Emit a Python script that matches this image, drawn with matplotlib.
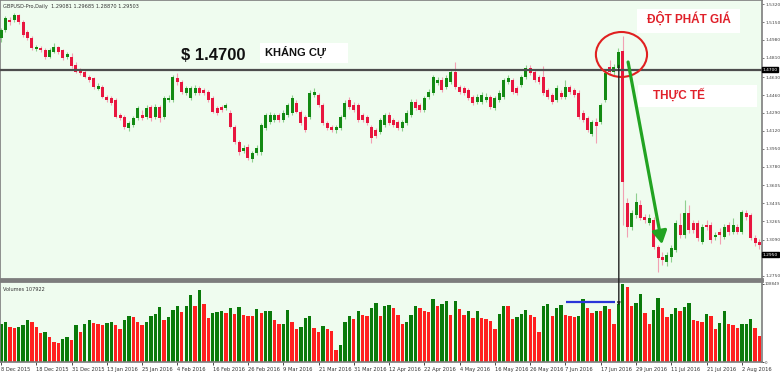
import matplotlib
matplotlib.use("Agg")
import matplotlib.pyplot as plt
from matplotlib.patches import Ellipse, Rectangle, FancyArrowPatch, ConnectionPatch

# GBPUSD daily, 8 Dec 2015 .. early Aug 2016
OPEN = [1.4999, 1.5075, 1.5169, 1.5169, 1.5216, 1.5150, 1.5056, 1.4999, 1.4895, 1.4904,
        1.4886, 1.4819, 1.4867, 1.4914, 1.4886, 1.4819, 1.4819, 1.4744, 1.4697, 1.4678,
        1.4630, 1.4621, 1.4517, 1.4536, 1.4441, 1.4432, 1.4413, 1.4271, 1.4252, 1.4148,
        1.4177, 1.4243, 1.4271, 1.4252, 1.4347, 1.4252, 1.4347, 1.4252, 1.4413, 1.4413,
        1.4621, 1.4583, 1.4479, 1.4432, 1.4479, 1.4526, 1.4508, 1.4489, 1.4432, 1.4337,
        1.4347, 1.4337, 1.4290, 1.4158, 1.4016, 1.3931, 1.3969, 1.3856, 1.3912, 1.3922,
        1.4148, 1.4205, 1.4224, 1.4271, 1.4224, 1.4271, 1.4290, 1.4385, 1.4300, 1.4252,
        1.4252, 1.4460, 1.4460, 1.4366, 1.4196, 1.4158, 1.4130, 1.4148, 1.4252, 1.4413,
        1.4366, 1.4366, 1.4271, 1.4252, 1.4158, 1.4130, 1.4111, 1.4177, 1.4271, 1.4224,
        1.4205, 1.4148, 1.4196, 1.4271, 1.4394, 1.4366, 1.4319, 1.4441, 1.4479, 1.4574,
        1.4602, 1.4536, 1.4583, 1.4678, 1.4536, 1.4526, 1.4508, 1.4441, 1.4394, 1.4394,
        1.4413, 1.4441, 1.4337, 1.4413, 1.4441, 1.4583, 1.4602, 1.4526, 1.4555, 1.4630,
        1.4715, 1.4678, 1.4630, 1.4630, 1.4508, 1.4460, 1.4413, 1.4479, 1.4441, 1.4536,
        1.4508, 1.4479, 1.4290, 1.4243, 1.4092, 1.4205, 1.4205, 1.4413, 1.4725, 1.4678,
        1.4715, 1.4877, 1.3440, 1.3213, 1.3326, 1.3421, 1.3307, 1.3251, 1.3279, 1.3024,
        1.2929, 1.2882, 1.2929, 1.2996, 1.3232, 1.3137, 1.3345, 1.3251, 1.3251, 1.3071,
        1.3232, 1.3232, 1.3118, 1.3166, 1.3118, 1.3232, 1.3166, 1.3213, 1.3166, 1.3345,
        1.3326, 1.3109, 1.3071]
HIGH = [1.5093, 1.5207, 1.5197, 1.5235, 1.5226, 1.5169, 1.5075, 1.5018, 1.4933, 1.4923,
        1.4904, 1.4904, 1.4952, 1.4923, 1.4895, 1.4867, 1.4857, 1.4772, 1.4715, 1.4697,
        1.4649, 1.4630, 1.4574, 1.4555, 1.4460, 1.4451, 1.4432, 1.4290, 1.4271, 1.4215,
        1.4262, 1.4356, 1.4319, 1.4366, 1.4366, 1.4375, 1.4366, 1.4451, 1.4460, 1.4649,
        1.4668, 1.4602, 1.4545, 1.4545, 1.4555, 1.4545, 1.4526, 1.4508, 1.4451, 1.4356,
        1.4366, 1.4385, 1.4319, 1.4177, 1.4035, 1.3988, 1.3997, 1.3931, 1.3988, 1.4196,
        1.4290, 1.4300, 1.4290, 1.4290, 1.4319, 1.4385, 1.4460, 1.4413, 1.4319, 1.4271,
        1.4508, 1.4526, 1.4479, 1.4385, 1.4215, 1.4177, 1.4177, 1.4271, 1.4413, 1.4441,
        1.4394, 1.4385, 1.4290, 1.4271, 1.4177, 1.4148, 1.4243, 1.4290, 1.4300, 1.4243,
        1.4224, 1.4224, 1.4319, 1.4422, 1.4422, 1.4385, 1.4451, 1.4517, 1.4649, 1.4630,
        1.4630, 1.4649, 1.4697, 1.4772, 1.4555, 1.4545, 1.4526, 1.4460, 1.4470, 1.4489,
        1.4479, 1.4460, 1.4451, 1.4508, 1.4621, 1.4649, 1.4621, 1.4545, 1.4649, 1.4744,
        1.4744, 1.4697, 1.4649, 1.4734, 1.4526, 1.4479, 1.4555, 1.4508, 1.4602, 1.4555,
        1.4526, 1.4508, 1.4319, 1.4262, 1.4224, 1.4243, 1.4385, 1.4697, 1.4791, 1.4753,
        1.4904, 1.5018, 1.3487, 1.3374, 1.3534, 1.3468, 1.3336, 1.3336, 1.3307, 1.3043,
        1.2977, 1.2977, 1.3043, 1.3279, 1.3345, 1.3468, 1.3421, 1.3279, 1.3279, 1.3241,
        1.3279, 1.3260, 1.3166, 1.3203, 1.3241, 1.3260, 1.3298, 1.3241, 1.3374, 1.3374,
        1.3345, 1.3137, 1.3099]
LOW = [1.4961, 1.5056, 1.5122, 1.5150, 1.5131, 1.5008, 1.4980, 1.4886, 1.4876, 1.4867,
       1.4800, 1.4810, 1.4857, 1.4848, 1.4791, 1.4800, 1.4715, 1.4668, 1.4649, 1.4621,
       1.4583, 1.4517, 1.4508, 1.4432, 1.4394, 1.4366, 1.4243, 1.4224, 1.4139, 1.4120,
       1.4158, 1.4224, 1.4224, 1.4233, 1.4215, 1.4233, 1.4205, 1.4233, 1.4394, 1.4394,
       1.4555, 1.4470, 1.4460, 1.4413, 1.4460, 1.4460, 1.4460, 1.4394, 1.4290, 1.4271,
       1.4300, 1.4319, 1.4148, 1.3997, 1.3893, 1.3912, 1.3846, 1.3827, 1.3893, 1.3893,
       1.4130, 1.4186, 1.4205, 1.4205, 1.4205, 1.4252, 1.4271, 1.4290, 1.4177, 1.4111,
       1.4233, 1.4441, 1.4347, 1.4177, 1.4130, 1.4111, 1.4101, 1.4130, 1.4233, 1.4328,
       1.4300, 1.4205, 1.4205, 1.4177, 1.4007, 1.4054, 1.4092, 1.4158, 1.4177, 1.4158,
       1.4130, 1.4120, 1.4177, 1.4252, 1.4319, 1.4300, 1.4300, 1.4422, 1.4460, 1.4555,
       1.4489, 1.4517, 1.4564, 1.4517, 1.4470, 1.4460, 1.4413, 1.4366, 1.4375, 1.4375,
       1.4394, 1.4328, 1.4319, 1.4394, 1.4422, 1.4564, 1.4470, 1.4460, 1.4536, 1.4611,
       1.4649, 1.4583, 1.4564, 1.4460, 1.4422, 1.4375, 1.4394, 1.4422, 1.4422, 1.4470,
       1.4441, 1.4233, 1.4205, 1.4111, 1.4073, 1.4007, 1.4186, 1.4394, 1.4649, 1.4649,
       1.4697, 1.3232, 1.3118, 1.3185, 1.3298, 1.3279, 1.3251, 1.3232, 1.3005, 1.2788,
       1.2854, 1.2844, 1.2882, 1.2977, 1.3109, 1.3109, 1.3156, 1.3156, 1.3081, 1.3052,
       1.3185, 1.3062, 1.3090, 1.3052, 1.3099, 1.3137, 1.3147, 1.3147, 1.3147, 1.3279,
       1.3090, 1.3033, 1.3005]
CLOSE = [1.5075, 1.5188, 1.5150, 1.5216, 1.5150, 1.5027, 1.4999, 1.4904, 1.4914, 1.4886,
         1.4819, 1.4886, 1.4914, 1.4867, 1.4810, 1.4848, 1.4734, 1.4678, 1.4668, 1.4630,
         1.4602, 1.4536, 1.4545, 1.4441, 1.4413, 1.4385, 1.4252, 1.4243, 1.4158, 1.4196,
         1.4243, 1.4337, 1.4243, 1.4337, 1.4243, 1.4347, 1.4243, 1.4432, 1.4432, 1.4630,
         1.4583, 1.4489, 1.4526, 1.4526, 1.4526, 1.4479, 1.4479, 1.4413, 1.4300, 1.4290,
         1.4319, 1.4366, 1.4158, 1.4016, 1.3922, 1.3959, 1.3865, 1.3912, 1.3959, 1.4177,
         1.4271, 1.4271, 1.4271, 1.4224, 1.4290, 1.4366, 1.4432, 1.4300, 1.4196, 1.4130,
         1.4479, 1.4489, 1.4366, 1.4196, 1.4148, 1.4130, 1.4158, 1.4252, 1.4385, 1.4347,
         1.4319, 1.4224, 1.4224, 1.4196, 1.4054, 1.4073, 1.4224, 1.4271, 1.4196, 1.4177,
         1.4148, 1.4205, 1.4290, 1.4394, 1.4337, 1.4319, 1.4432, 1.4489, 1.4630, 1.4602,
         1.4508, 1.4621, 1.4678, 1.4536, 1.4489, 1.4479, 1.4432, 1.4385, 1.4441, 1.4460,
         1.4441, 1.4347, 1.4432, 1.4479, 1.4602, 1.4621, 1.4489, 1.4479, 1.4630, 1.4715,
         1.4668, 1.4602, 1.4583, 1.4479, 1.4441, 1.4394, 1.4526, 1.4441, 1.4536, 1.4489,
         1.4460, 1.4252, 1.4224, 1.4130, 1.4205, 1.4167, 1.4366, 1.4668, 1.4678, 1.4725,
         1.4867, 1.3640, 1.3213, 1.3345, 1.3449, 1.3298, 1.3279, 1.3298, 1.3024, 1.2920,
         1.2901, 1.2948, 1.3014, 1.3251, 1.3137, 1.3345, 1.3185, 1.3185, 1.3109, 1.3213,
         1.3213, 1.3090, 1.3137, 1.3137, 1.3213, 1.3166, 1.3232, 1.3166, 1.3355, 1.3307,
         1.3109, 1.3062, 1.3043]
# tick volume (thousands)
VOLUME = [52, 55, 49, 47, 48, 51, 58, 55, 48, 40,
          41, 35, 27, 26, 32, 35, 31, 51, 42, 52,
          58, 54, 52, 51, 54, 56, 51, 46, 58, 63,
          62, 56, 51, 55, 63, 66, 76, 58, 62, 72,
          78, 69, 78, 92, 78, 99, 80, 61, 68, 69,
          70, 68, 75, 66, 76, 65, 64, 63, 73, 68,
          70, 71, 58, 52, 53, 72, 55, 45, 49, 61,
          63, 47, 41, 50, 46, 43, 17, 23, 55, 63,
          59, 71, 65, 63, 75, 81, 64, 77, 79, 75,
          65, 52, 56, 65, 77, 75, 70, 69, 87, 77,
          80, 85, 65, 84, 73, 65, 71, 61, 70, 61,
          60, 57, 46, 66, 78, 77, 59, 62, 66, 72,
          65, 62, 41, 77, 80, 64, 75, 79, 65, 64,
          62, 64, 87, 74, 68, 71, 70, 77, 73, 52,
          80, 108, 104, 78, 81, 94, 68, 52, 72, 88,
          75, 62, 66, 74, 71, 76, 81, 58, 57, 55,
          66, 64, 46, 54, 71, 52, 51, 47, 52, 53,
          59, 47, 36]
DATE_LABELS = ["8 Dec 2015", "18 Dec 2015", "31 Dec 2015", "13 Jan 2016", "25 Jan 2016",
               "4 Feb 2016", "16 Feb 2016", "26 Feb 2016", "9 Mar 2016", "21 Mar 2016",
               "31 Mar 2016", "12 Apr 2016", "22 Apr 2016", "4 May 2016", "16 May 2016",
               "26 May 2016", "7 Jun 2016", "17 Jun 2016", "29 Jun 2016", "11 Jul 2016",
               "21 Jul 2016", "2 Aug 2016"]
PRICE_TICKS = [1.5320, 1.5150, 1.4980, 1.4810, 1.4630, 1.4460, 1.4290, 1.4120,
               1.3950, 1.3780, 1.3605, 1.3435, 1.3265, 1.3090, 1.2750]
RESISTANCE = 1.4700
LAST_PRICE = 1.2950

BG = "#effcef"
UP, DOWN = "#138a13", "#e8163f"
UP_WICK, DOWN_WICK = "#8fcf8f", "#f2a0b3"
VUP, VDOWN = "#0a7a0a", "#ff1f1f"
FRAME = "#7d7d7d"

W, H = 780, 373
fig = plt.figure(figsize=(W / 100, H / 100), dpi=100)
fig.patch.set_facecolor("white")

# pixel box helpers (left, top, right, bottom in image pixels)
def box(l, t, r, b):
    return [l / W, 1 - b / H, (r - l) / W, (b - t) / H]

ax = fig.add_axes(box(0, 0, 762, 279))
vax = fig.add_axes(box(0, 281, 762, 362))
for a in (ax, vax):
    a.set_facecolor(BG)
    for s in a.spines.values():
        s.set_color(FRAME)
        s.set_linewidth(1.2)
    a.set_xlim(-0.23, 172.57)
ax.spines["bottom"].set_linewidth(2.0)
vax.spines["top"].set_linewidth(2.0)

n = len(CLOSE)
xs = list(range(n))

# candles
for i in xs:
    o, h, l, c = OPEN[i], HIGH[i], LOW[i], CLOSE[i]
    up = c >= o
    ax.vlines(i, l, h, color=UP_WICK if up else DOWN_WICK, lw=0.8, zorder=2)
    body = max(abs(c - o), 0.0004)
    ax.bar(i, body, bottom=min(o, c), width=0.68, color=UP if up else DOWN,
           linewidth=0, zorder=3)

ax.set_ylim(1.2721, 1.5358)
ax.set_xticks([])
ax.yaxis.tick_right()
ax.set_yticks(PRICE_TICKS)
ax.set_yticklabels(["%.4f" % p for p in PRICE_TICKS], fontsize=3.2, color="#444444")
ax.tick_params(axis="y", length=1.5, width=0.5, pad=0.8, colors="#444444")

# resistance line + price boxes on the axis
ax.axhline(RESISTANCE, color="#4d4d4d", lw=1.6, zorder=4)
for p in (RESISTANCE, LAST_PRICE):
    ax.text(1.001, p, "%.4f" % p, transform=ax.get_yaxis_transform(), fontsize=3.2,
            color="white", va="center", ha="left",
            bbox=dict(boxstyle="square,pad=0.12", fc="black", ec="black"), clip_on=False)

ax.text(0.004, 0.984, "GBPUSD-Pro,Daily  1.29081 1.29685 1.28870 1.29503",
        transform=ax.transAxes, fontsize=3.6, color="#333333", va="top", ha="left")

# volumes: green when higher than previous bar, red otherwise
vcolors = [VUP] + [VUP if VOLUME[i] > VOLUME[i - 1] else VDOWN for i in range(1, n)]
vax.bar(xs, VOLUME, width=0.76, color=vcolors, linewidth=0, zorder=2)
vax.set_ylim(0, 112)
vax.yaxis.tick_right()
vax.set_yticks([0, 108])
vax.set_yticklabels(["0", "108849"], fontsize=2.9, color="#444444")
vax.tick_params(axis="y", length=1.2, width=0.5, pad=0.6)
vax.set_xticks(range(0, n, 8))
vax.set_xticklabels(DATE_LABELS, fontsize=3.7, color="#333333", ha="left")
vax.tick_params(axis="x", length=2, width=0.5, pad=1.5)
vax.text(0.004, 0.93, "Volumes 107922", transform=vax.transAxes, fontsize=3.6,
         color="#333333", va="top", ha="left")

# blue level on volume pane
vax.hlines(83, 128.1, 139.3, color="#2a35d8", lw=1.6, zorder=4)

# vertical marker from resistance down into volume pane
con = ConnectionPatch(xyA=(140.1, 1.4740), coordsA=ax.transData,
                      xyB=(140.1, 78), coordsB=vax.transData,
                      color="#222222", lw=1.0, arrowstyle="-|>", mutation_scale=4,
                      zorder=6)
fig.add_artist(con)

# annotations
FONT = "Liberation Sans"
ax.text(48.2, 1.4838, "$ 1.4700", fontsize=12, fontweight="bold", family=FONT,
        color="#111111", ha="center", va="center", zorder=6)
ax.add_patch(Rectangle((58.7, 1.4763), 20.0, 0.0189, fc="white", ec="none", zorder=5))
ax.text(59.8, 1.4865, "KHÁNG CỰ", fontsize=8, fontweight="bold", family=FONT,
        color="#111111", ha="left", va="center", zorder=6)
ax.add_patch(Rectangle((144.2, 1.5046), 23.4, 0.0227, fc="white", ec="none", zorder=5))
ax.text(156.0, 1.5180, "ĐỘT PHÁT GIÁ", fontsize=8.5, fontweight="bold", family=FONT,
        color="#e0202a", ha="center", va="center", zorder=6)
ax.add_patch(Rectangle((144.4, 1.4347), 27.0, 0.0208, fc="white", ec="none", zorder=5))
ax.text(147.8, 1.4455, "THỰC TẾ", fontsize=8.5, fontweight="bold", family=FONT,
        color="#e0202a", ha="left", va="center", zorder=6)

ax.add_patch(Ellipse((140.7, 1.4843), 11.6, 0.0425, fill=False, ec="#e02020",
                     lw=1.5, zorder=7))
ax.add_patch(FancyArrowPatch((142.2, 1.4772), (149.9, 1.3050),
                             arrowstyle="-|>,head_length=3.5,head_width=2",
                             color="#22a322", lw=2.3, mutation_scale=2.2,
                             shrinkA=0, shrinkB=0, zorder=7))

fig.savefig("out.png", dpi=100, facecolor="white")
